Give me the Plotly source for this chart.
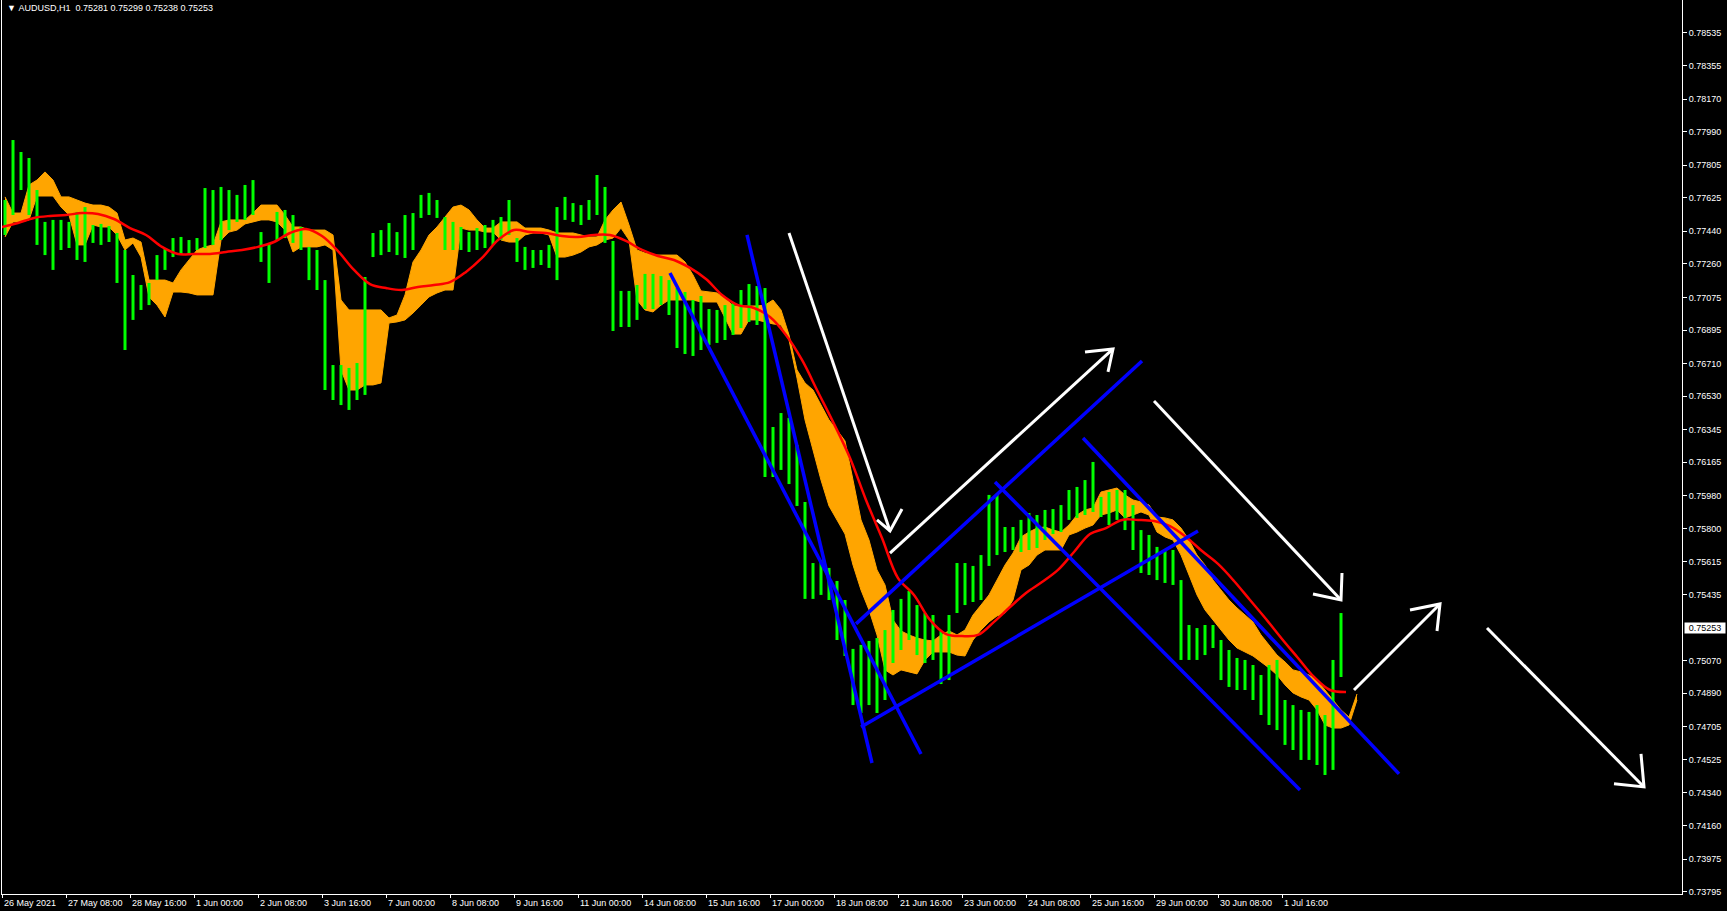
import plotly.graph_objects as go

# ---------------- data ----------------
symbol_title = "AUDUSD,H1"
last_ohlc = ["0.75281", "0.75299", "0.75238", "0.75253"]
last_close = 0.75253

# H1 price bars, aggregated per 4 bars (bar index 0 = 26 May 2021 00:00)
group_size = 4
bar_high = [
    0.77613, 0.77944, 0.77878, 0.77845, 0.77668, 0.77492, 0.77503, 0.77503, 0.77492, 0.77547,
    0.77574, 0.77475, 0.77481, 0.77469, 0.77431, 0.77337, 0.77199, 0.77144, 0.77155, 0.77309,
    0.77348, 0.77403, 0.77409, 0.77392, 0.77403, 0.77679, 0.77668, 0.77685, 0.77668, 0.77641,
    0.77696, 0.77723, 0.77436, 0.77376, 0.77547, 0.77558, 0.77530, 0.77464, 0.77354, 0.77337,
    0.77171, 0.76702, 0.76702, 0.76686, 0.76713, 0.77188, 0.77431, 0.77447, 0.77486, 0.77436,
    0.77530, 0.77541, 0.77641, 0.77652, 0.77613, 0.77519, 0.77492, 0.77464, 0.77436, 0.77458,
    0.77475, 0.77503, 0.77519, 0.77613, 0.77403, 0.77354, 0.77337, 0.77337, 0.77365, 0.77574,
    0.77630, 0.77596, 0.77585, 0.77613, 0.77751, 0.77685, 0.77387, 0.77111, 0.77111, 0.77144,
    0.77205, 0.77205, 0.77193, 0.77171, 0.77127, 0.77105, 0.77061, 0.77083, 0.77011, 0.77006,
    0.77033, 0.77050, 0.77116, 0.77149, 0.77138, 0.77127, 0.76360, 0.76437, 0.76410, 0.76261,
    0.75946, 0.75609, 0.75626, 0.75582, 0.75510, 0.75405, 0.75135, 0.75157, 0.75179, 0.75195,
    0.75239, 0.75350, 0.75411, 0.75455, 0.75377, 0.75333, 0.75322, 0.75234, 0.75322, 0.75609,
    0.75609, 0.75593, 0.75653, 0.75985, 0.75985, 0.75808, 0.75808, 0.75847, 0.75885, 0.75874,
    0.75902, 0.75907, 0.75929, 0.76012, 0.76029, 0.76067, 0.76167, 0.75974, 0.76001, 0.76012,
    0.76012, 0.75929, 0.75791, 0.75764, 0.75698, 0.75681, 0.75681, 0.75515, 0.75267, 0.75250,
    0.75267, 0.75267, 0.75184, 0.75129, 0.75085, 0.75074, 0.75046, 0.74991, 0.75046, 0.75074,
    0.74853, 0.74825, 0.74798, 0.74787, 0.74825, 0.74770, 0.75074, 0.75333,
]
bar_low = [
    0.77420, 0.77530, 0.77668, 0.77530, 0.77365, 0.77309, 0.77227, 0.77337, 0.77348, 0.77282,
    0.77271, 0.77376, 0.77365, 0.77381, 0.77155, 0.76785, 0.76951, 0.77006, 0.77033, 0.77171,
    0.77227, 0.77298, 0.77309, 0.77309, 0.77337, 0.77348, 0.77365, 0.77392, 0.77447, 0.77492,
    0.77503, 0.77530, 0.77271, 0.77155, 0.77392, 0.77403, 0.77376, 0.77337, 0.77171, 0.77116,
    0.76564, 0.76509, 0.76481, 0.76454, 0.76509, 0.76537, 0.77298, 0.77309, 0.77326, 0.77309,
    0.77293, 0.77337, 0.77514, 0.77530, 0.77514, 0.77337, 0.77337, 0.77337, 0.77326, 0.77337,
    0.77348, 0.77365, 0.77392, 0.77420, 0.77271, 0.77227, 0.77238, 0.77254, 0.77238, 0.77171,
    0.77503, 0.77492, 0.77475, 0.77503, 0.77530, 0.77376, 0.76890, 0.76912, 0.76912, 0.76951,
    0.77011, 0.77011, 0.77033, 0.76978, 0.76796, 0.76763, 0.76752, 0.76785, 0.76813, 0.76824,
    0.76840, 0.76868, 0.76906, 0.76940, 0.76923, 0.76084, 0.76084, 0.76123, 0.76045, 0.75924,
    0.75411, 0.75411, 0.75433, 0.75405, 0.75184, 0.75096, 0.74825, 0.74781, 0.74825, 0.74781,
    0.74853, 0.75057, 0.75129, 0.75184, 0.75101, 0.75057, 0.75074, 0.74941, 0.74963, 0.75333,
    0.75377, 0.75394, 0.75405, 0.75593, 0.75653, 0.75670, 0.75681, 0.75670, 0.75681, 0.75692,
    0.75736, 0.75769, 0.75780, 0.75847, 0.75858, 0.75874, 0.75891, 0.75863, 0.75819, 0.75847,
    0.75791, 0.75681, 0.75554, 0.75543, 0.75515, 0.75499, 0.75488, 0.75074, 0.75074, 0.75074,
    0.75101, 0.75140, 0.74963, 0.74925, 0.74908, 0.74908, 0.74853, 0.74770, 0.74715, 0.74687,
    0.74605, 0.74577, 0.74522, 0.74522, 0.74494, 0.74439, 0.74467, 0.74980,
]

# Ichimoku cloud edges (per 4 bars)
cloud_upper = [
    0.77630, 0.77541, 0.77541, 0.77696, 0.77723, 0.77768, 0.77723, 0.77630, 0.77630, 0.77613,
    0.77596, 0.77585, 0.77585, 0.77574, 0.77541, 0.77392, 0.77403, 0.77381, 0.77171, 0.77171,
    0.77171, 0.77155, 0.77227, 0.77282, 0.77337, 0.77354, 0.77365, 0.77492, 0.77503, 0.77503,
    0.77503, 0.77541, 0.77585, 0.77585, 0.77585, 0.77530, 0.77464, 0.77464, 0.77447, 0.77447,
    0.77447, 0.77420, 0.77061, 0.77006, 0.77006, 0.77006, 0.77006, 0.77006, 0.76962, 0.76978,
    0.77089, 0.77271, 0.77337, 0.77420, 0.77464, 0.77519, 0.77574, 0.77585, 0.77558, 0.77503,
    0.77458, 0.77458, 0.77492, 0.77492, 0.77492, 0.77458, 0.77458, 0.77458, 0.77447, 0.77431,
    0.77431, 0.77431, 0.77420, 0.77409, 0.77409, 0.77503, 0.77558, 0.77602, 0.77475, 0.77337,
    0.77320, 0.77309, 0.77309, 0.77309, 0.77309, 0.77271, 0.77199, 0.77111, 0.77105, 0.77100,
    0.77072, 0.77028, 0.77028, 0.77028, 0.77028, 0.77033, 0.77061, 0.77006, 0.76868, 0.76675,
    0.76603, 0.76564, 0.76481, 0.76399, 0.76343, 0.76283, 0.76067, 0.75847, 0.75736, 0.75571,
    0.75488, 0.75295, 0.75234, 0.75212, 0.75195, 0.75184, 0.75179, 0.75212, 0.75234, 0.75212,
    0.75239, 0.75322, 0.75377, 0.75433, 0.75515, 0.75598, 0.75664, 0.75753, 0.75780, 0.75802,
    0.75808, 0.75791, 0.75780, 0.75819, 0.75874, 0.75902, 0.75913, 0.76001, 0.76012, 0.76023,
    0.75985, 0.75957, 0.75946, 0.75929, 0.75863, 0.75858, 0.75847, 0.75802, 0.75736, 0.75653,
    0.75598, 0.75515, 0.75460, 0.75405, 0.75361, 0.75322, 0.75284, 0.75212, 0.75157, 0.75101,
    0.75063, 0.75019, 0.75008, 0.74991, 0.74963, 0.74908, 0.74853, 0.74798, 0.74759, 0.74886,
]
cloud_lower = [
    0.77409, 0.77492, 0.77492, 0.77503, 0.77635, 0.77635, 0.77635, 0.77574, 0.77530, 0.77365,
    0.77365, 0.77475, 0.77464, 0.77464, 0.77420, 0.77337, 0.77376, 0.77298, 0.77078, 0.77033,
    0.76967, 0.77105, 0.77105, 0.77100, 0.77089, 0.77089, 0.77089, 0.77392, 0.77436, 0.77447,
    0.77481, 0.77492, 0.77503, 0.77503, 0.77492, 0.77447, 0.77326, 0.77354, 0.77354, 0.77354,
    0.77365, 0.77337, 0.76675, 0.76564, 0.76564, 0.76592, 0.76592, 0.76603, 0.76934, 0.76940,
    0.76951, 0.76989, 0.77033, 0.77078, 0.77100, 0.77116, 0.77116, 0.77458, 0.77447, 0.77447,
    0.77436, 0.77436, 0.77392, 0.77381, 0.77381, 0.77420, 0.77431, 0.77431, 0.77420, 0.77298,
    0.77298, 0.77309, 0.77326, 0.77354, 0.77365, 0.77392, 0.77403, 0.77458, 0.77392, 0.77061,
    0.77006, 0.76995, 0.77033, 0.77061, 0.77061, 0.77061, 0.77061, 0.77050, 0.77050, 0.77050,
    0.76962, 0.76873, 0.76873, 0.76951, 0.76951, 0.76940, 0.76929, 0.76923, 0.76840, 0.76630,
    0.76399, 0.76233, 0.76067, 0.75924, 0.75847, 0.75769, 0.75598, 0.75460, 0.75350, 0.75212,
    0.75019, 0.74991, 0.75019, 0.75008, 0.74997, 0.75074, 0.75118, 0.75118, 0.75118, 0.75101,
    0.75096, 0.75184, 0.75239, 0.75284, 0.75317, 0.75333, 0.75405, 0.75571, 0.75598, 0.75653,
    0.75681, 0.75681, 0.75681, 0.75764, 0.75780, 0.75802, 0.75819, 0.75874, 0.75885, 0.75902,
    0.75858, 0.75874, 0.75891, 0.75874, 0.75780, 0.75753, 0.75736, 0.75653, 0.75543, 0.75433,
    0.75350, 0.75295, 0.75239, 0.75184, 0.75140, 0.75118, 0.75096, 0.75063, 0.75030, 0.74991,
    0.74936, 0.74892, 0.74870, 0.74853, 0.74798, 0.74715, 0.74698, 0.74698, 0.74715, 0.74853,
]

# red moving average, one value every 8 bars
ma_step = 8
ma_values = [
    0.77464, 0.77486, 0.77514, 0.77525, 0.77530, 0.77541, 0.77536, 0.77508, 0.77458, 0.77420,
    0.77354, 0.77315, 0.77315, 0.77315, 0.77326, 0.77337, 0.77354, 0.77381, 0.77431, 0.77453,
    0.77414, 0.77331, 0.77227, 0.77149, 0.77127, 0.77116, 0.77133, 0.77144, 0.77160, 0.77216,
    0.77293, 0.77392, 0.77447, 0.77436, 0.77431, 0.77414, 0.77409, 0.77420, 0.77420, 0.77387,
    0.77337, 0.77304, 0.77282, 0.77238, 0.77177, 0.77089, 0.77033, 0.77017, 0.76967, 0.76868,
    0.76730, 0.76553, 0.76377, 0.76189, 0.75957, 0.75747, 0.75526, 0.75433, 0.75295, 0.75217,
    0.75206, 0.75212, 0.75284, 0.75366, 0.75444, 0.75504, 0.75571, 0.75670, 0.75769, 0.75802,
    0.75847, 0.75847, 0.75841, 0.75813, 0.75753, 0.75675, 0.75604, 0.75510, 0.75405, 0.75300,
    0.75190, 0.75085, 0.74980, 0.74908, 0.74897,
]

# hand-drawn objects: (bar index, price) pairs
blue_trendlines = [
    (372.5, 0.77420, 435.0, 0.74505),
    (334.0, 0.77210, 459.5, 0.74555),
    (427.0, 0.75273, 570.0, 0.76724),
    (429.5, 0.74704, 598.0, 0.75786),
    (540.5, 0.76299, 698.5, 0.74445),
    (496.5, 0.76056, 649.0, 0.74356),
]
# start, tip, arm1, arm2
white_arrows = [
    ((393.5, 0.77431), (444.0, 0.75786), (437.5, 0.75847), (450.0, 0.75907)),
    ((444.0, 0.75664), (555.5, 0.76791), (541.5, 0.76774), (553.0, 0.76664)),
    ((576.0, 0.76503), (669.5, 0.75405), (655.5, 0.75438), (670.0, 0.75554)),
    ((676.0, 0.74908), (719.0, 0.75383), (704.0, 0.75350), (717.5, 0.75234)),
    ((742.5, 0.75250), (821.0, 0.74373), (819.5, 0.74555), (806.0, 0.74390)),
]

time_tick_index = [0, 32, 64, 96, 128, 160, 192, 224, 256, 288, 320,
                   352, 384, 416, 448, 480, 512, 544, 576, 608, 640]
time_tick_labels = ["26 May 2021", "27 May 08:00", "28 May 16:00", "1 Jun 00:00",
                    "2 Jun 08:00", "3 Jun 16:00", "7 Jun 00:00", "8 Jun 08:00",
                    "9 Jun 16:00", "11 Jun 00:00", "14 Jun 08:00", "15 Jun 16:00",
                    "17 Jun 00:00", "18 Jun 08:00", "21 Jun 16:00", "23 Jun 00:00",
                    "24 Jun 08:00", "25 Jun 16:00", "29 Jun 00:00", "30 Jun 08:00",
                    "1 Jul 16:00"]
price_ticks = [0.78535, 0.78355, 0.78170, 0.77990, 0.77805, 0.77625, 0.77440, 0.77260,
               0.77075, 0.76895, 0.76710, 0.76530, 0.76345, 0.76165, 0.75980, 0.75800,
               0.75615, 0.75435, 0.75070, 0.74890, 0.74705, 0.74525, 0.74340, 0.74160,
               0.73975, 0.73795]

# ---------------- figure ----------------
FONT = "Liberation Sans, Arial, sans-serif"
GREEN = "#00FF00"
ORANGE = "#FFA500"

fig = go.Figure()

cloud_x = [g * group_size + 1.5 for g in range(len(cloud_upper))]
fig.add_trace(go.Scatter(x=cloud_x, y=cloud_lower, mode="lines",
                         line=dict(color=ORANGE, width=1), hoverinfo="skip"))
fig.add_trace(go.Scatter(x=cloud_x, y=cloud_upper, mode="lines", fill="tonexty",
                         fillcolor=ORANGE, line=dict(color=ORANGE, width=1),
                         hoverinfo="skip"))

bx, by = [], []
for g, (h, l) in enumerate(zip(bar_high, bar_low)):
    xc = g * group_size + 1.5
    bx += [xc, xc, None]
    by += [l, h, None]
fig.add_trace(go.Scatter(x=bx, y=by, mode="lines", line=dict(color=GREEN, width=3),
                         hoverinfo="skip"))

ma_x = [k * ma_step for k in range(len(ma_values))]
fig.add_trace(go.Scatter(x=ma_x, y=ma_values, mode="lines", line_shape="spline",
                         line=dict(color="#FF0000", width=2.5), hoverinfo="skip"))

for (x0, y0, x1, y1) in blue_trendlines:
    fig.add_trace(go.Scatter(x=[x0, x1], y=[y0, y1], mode="lines",
                             line=dict(color="#0000FF", width=3.5), hoverinfo="skip"))

for start, tip, a1, a2 in white_arrows:
    fig.add_trace(go.Scatter(x=[start[0], tip[0], None, a1[0], tip[0], a2[0]],
                             y=[start[1], tip[1], None, a1[1], tip[1], a2[1]],
                             mode="lines", line=dict(color="#FFFFFF", width=3),
                             hoverinfo="skip"))

annotations = []
for idx, lab in zip(time_tick_index, time_tick_labels):
    annotations.append(dict(x=idx, xref="x", y=0, yref="paper", text=lab,
                            showarrow=False, xanchor="left", yanchor="top",
                            xshift=0, yshift=-2,
                            font=dict(family=FONT, size=9, color="white")))
annotations.append(dict(x=0, xref="paper", y=1, yref="paper",
                        text="▼\u00a0" + symbol_title + "\u00a0\u00a0" + " ".join(last_ohlc),
                        showarrow=False, xanchor="left", yanchor="top", xshift=3, yshift=-1,
                        font=dict(family=FONT, size=9, color="white")))
annotations.append(dict(x=1, xref="paper", y=last_close, yref="y",
                        text=f"{last_close:.5f}", showarrow=False, xanchor="left",
                        yanchor="middle", xshift=2, bgcolor="white", borderpad=0,
                        width=40, height=10,
                        font=dict(family=FONT, size=9, color="black")))

fig.update_layout(
    width=1727, height=911,
    margin=dict(l=2, r=45, t=0, b=17, pad=0),
    paper_bgcolor="black", plot_bgcolor="black",
    showlegend=False,
    annotations=annotations,
    xaxis=dict(range=[0, 840], showgrid=False, zeroline=False, showline=True,
               linecolor="white", linewidth=1, tickvals=time_tick_index,
               ticks="outside", ticklen=3, tickcolor="white", showticklabels=False,
               fixedrange=True),
    yaxis=dict(range=[0.73782, 0.78717], side="right", showgrid=False, zeroline=False,
               showline=True, mirror=True, linecolor="white", linewidth=1,
               tickvals=price_ticks, ticktext=[f"{v:.5f}" for v in price_ticks],
               ticks="outside", ticklen=4, tickcolor="white",
               tickfont=dict(family=FONT, size=9, color="white"), fixedrange=True),
)

fig.write_html("out.html", config={"displayModeBar": False, "staticPlot": True},
               post_script="document.body.style.margin='0px';document.body.style.overflow='hidden';")
